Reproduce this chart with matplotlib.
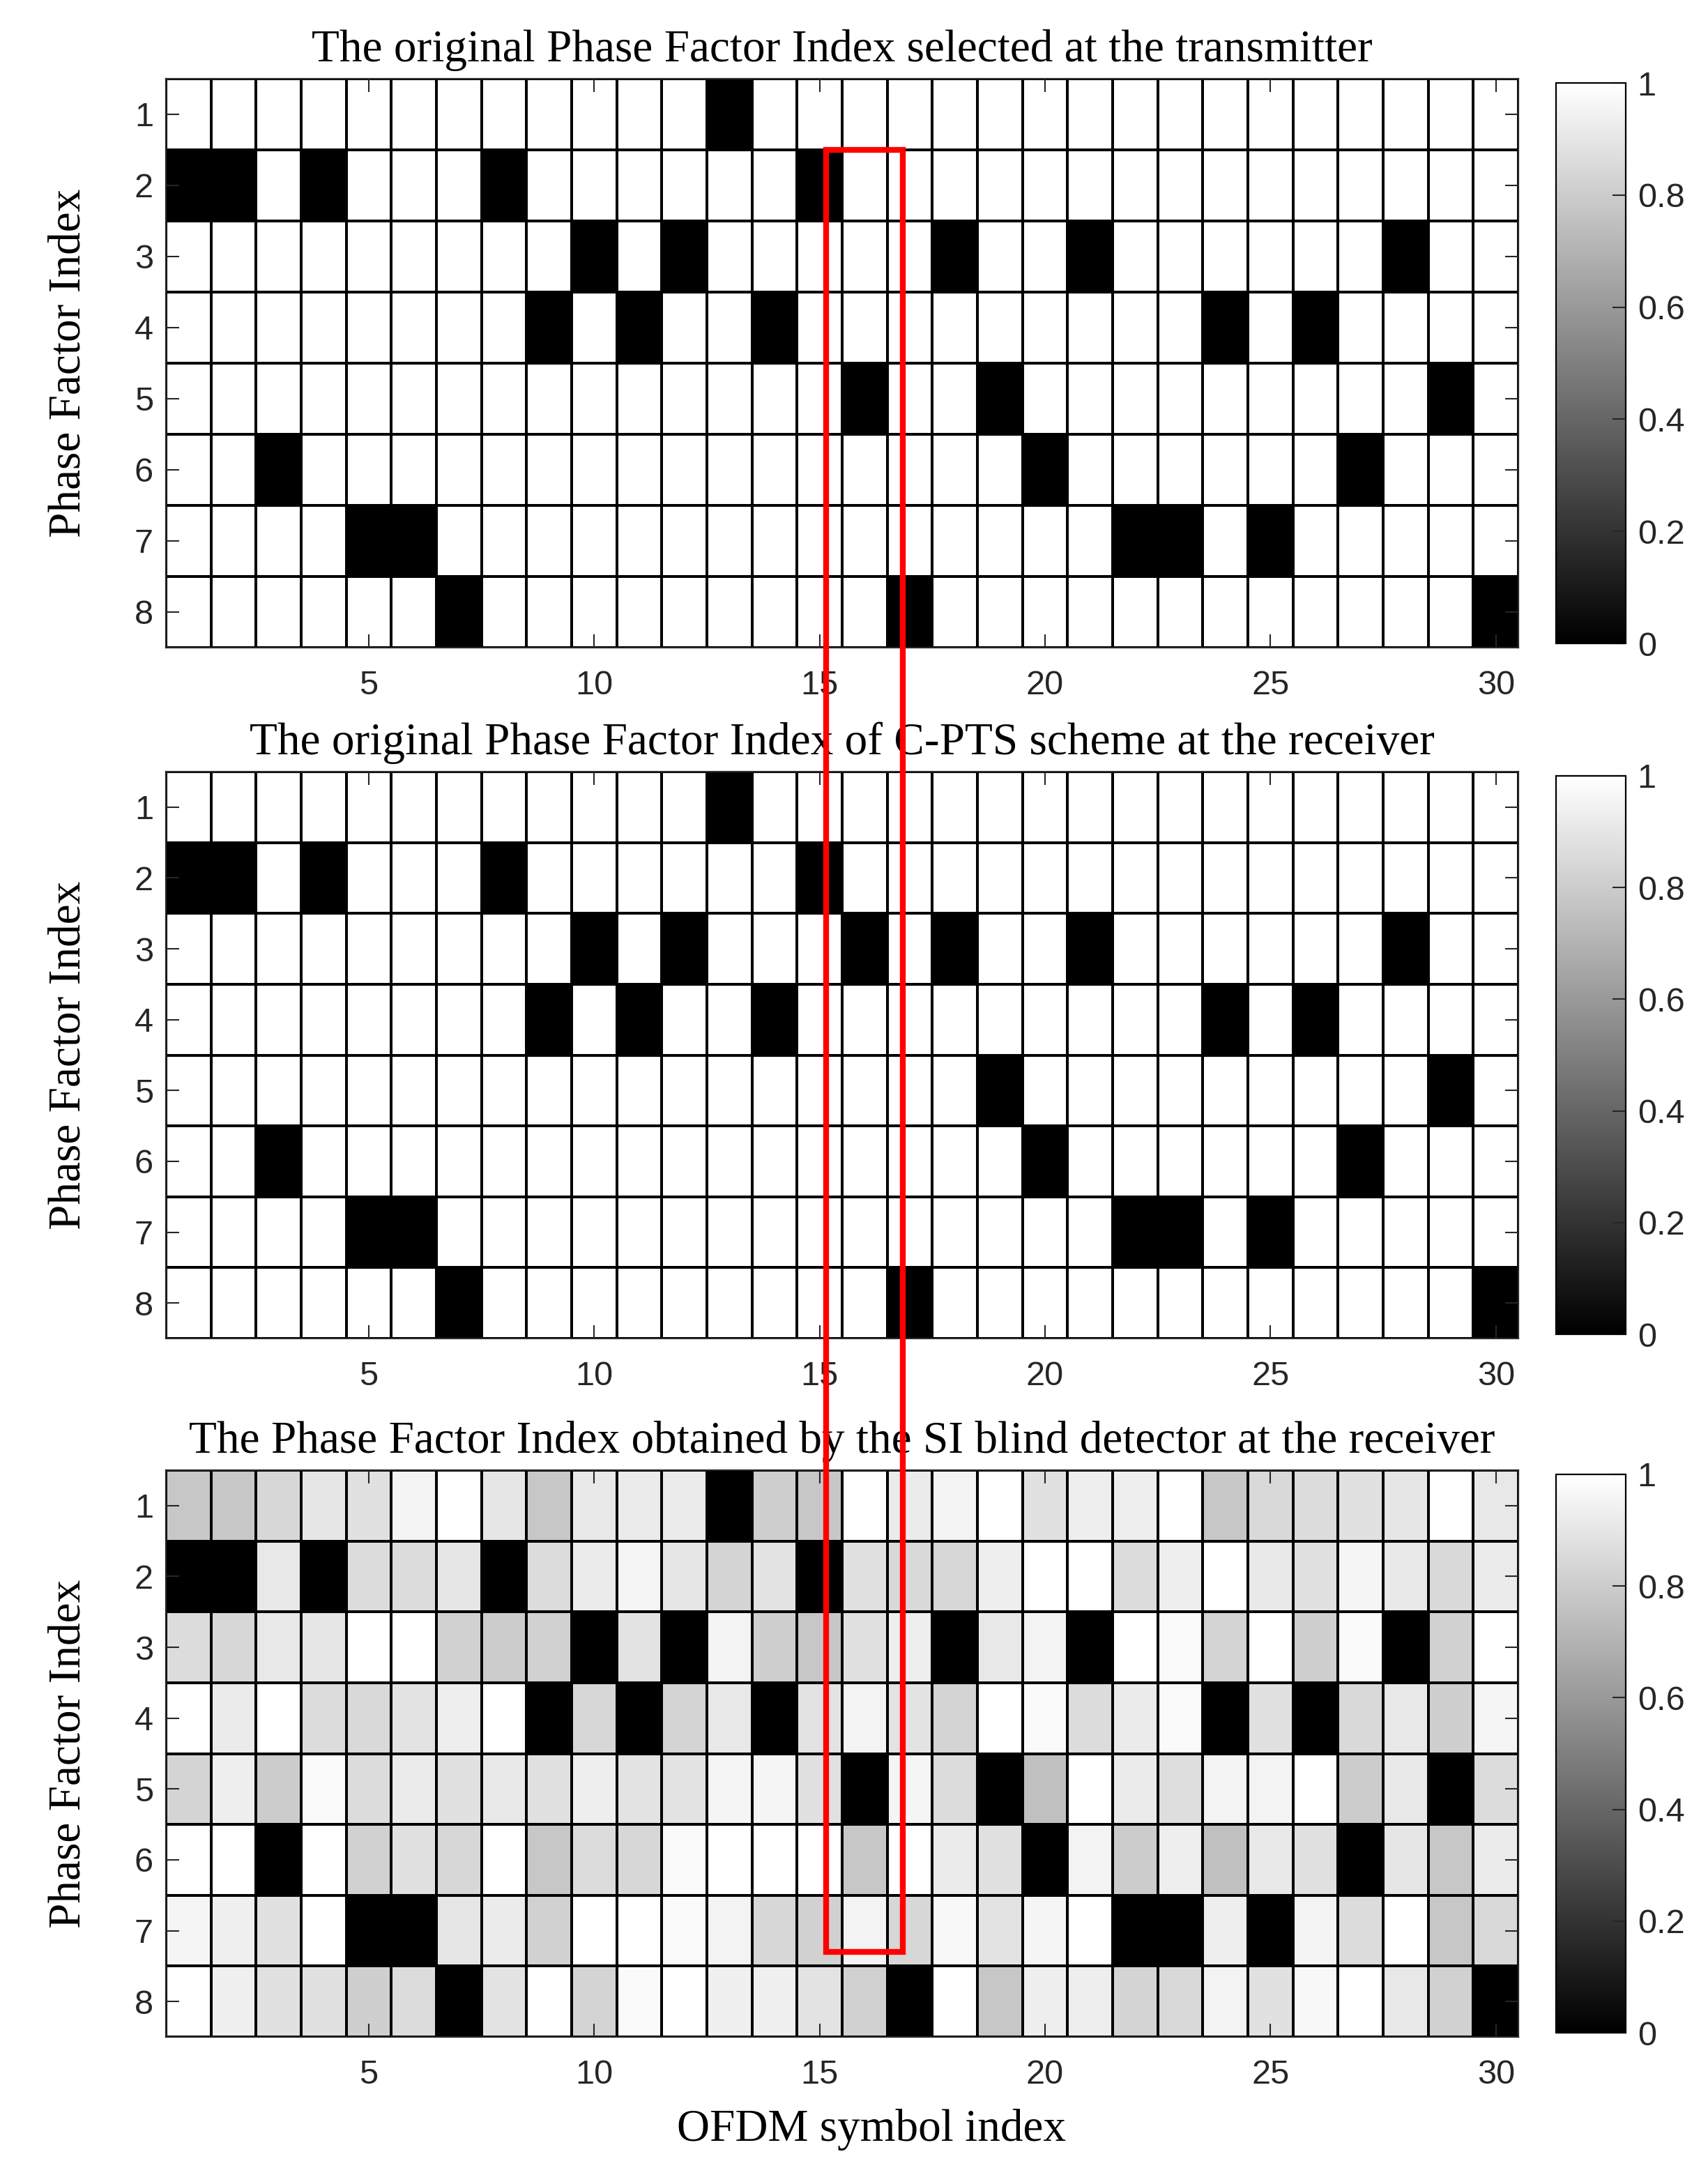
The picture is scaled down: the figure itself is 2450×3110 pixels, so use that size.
import numpy as np
import matplotlib
matplotlib.use("Agg")
import matplotlib.pyplot as plt
from matplotlib.patches import Rectangle

plt.rcParams["font.family"] = ["Liberation Sans", "DejaVu Sans"]

# phase factor index (row, 1..8) chosen for each OFDM symbol (column, 1..30)
symbols = list(range(1, 31))
phase_rows = list(range(1, 9))
tx_index = [2, 2, 6, 2, 7, 7, 8, 2, 4, 3, 4, 3, 1, 4, 2, 5, 8, 3, 5, 6, 3, 7, 7, 4, 7, 4, 6, 3, 5, 8]
rx_index = [2, 2, 6, 2, 7, 7, 8, 2, 4, 3, 4, 3, 1, 4, 2, 3, 8, 3, 5, 6, 3, 7, 7, 4, 7, 4, 6, 3, 5, 8]

# normalised metric from the SI blind detector, one list per phase factor index
si_row1 = [0.78, 0.78, 0.84, 0.90, 0.88, 0.95, 1.00, 0.90, 0.78, 0.91, 0.92, 0.92, 0.00, 0.81, 0.78,
           1.00, 0.92, 0.95, 1.00, 0.88, 0.93, 0.93, 1.00, 0.78, 0.85, 0.86, 0.88, 0.90, 1.00, 0.91]
si_row2 = [0.00, 0.00, 0.91, 0.00, 0.86, 0.86, 0.90, 0.00, 0.86, 0.92, 0.96, 0.90, 0.83, 0.89, 0.00,
           0.88, 0.85, 0.84, 0.93, 1.00, 1.00, 0.86, 0.93, 1.00, 0.91, 0.88, 0.96, 0.91, 0.85, 0.92]
si_row3 = [0.86, 0.84, 0.91, 0.90, 1.00, 1.00, 0.82, 0.80, 0.82, 0.00, 0.89, 0.00, 0.95, 0.81, 0.78,
           0.88, 0.93, 0.00, 0.91, 0.95, 0.00, 1.00, 0.98, 0.83, 1.00, 0.81, 0.98, 0.00, 0.82, 1.00]
si_row4 = [1.00, 0.92, 1.00, 0.86, 0.85, 0.89, 0.93, 1.00, 0.00, 0.84, 0.00, 0.83, 0.91, 0.00, 0.89,
           0.95, 0.89, 0.83, 1.00, 0.98, 0.86, 0.92, 0.98, 0.00, 0.88, 0.00, 0.85, 0.91, 0.81, 0.96]
si_row5 = [0.83, 0.93, 0.80, 0.98, 0.86, 0.92, 0.88, 0.91, 0.88, 0.93, 0.89, 0.89, 0.96, 0.96, 0.88,
           0.00, 0.96, 0.86, 0.00, 0.75, 1.00, 0.92, 0.87, 0.95, 0.95, 1.00, 0.80, 0.91, 0.00, 0.86]
si_row6 = [1.00, 1.00, 0.00, 1.00, 0.82, 0.88, 0.84, 1.00, 0.78, 0.86, 0.84, 0.98, 1.00, 1.00, 1.00,
           0.78, 1.00, 0.92, 0.88, 0.00, 0.95, 0.80, 0.93, 0.75, 0.91, 0.88, 0.00, 0.90, 0.78, 0.92]
si_row7 = [0.96, 0.94, 0.88, 1.00, 0.00, 0.00, 0.90, 0.92, 0.82, 1.00, 1.00, 0.98, 0.95, 0.84, 0.82,
           0.95, 0.84, 0.97, 0.89, 0.96, 1.00, 0.00, 0.00, 0.93, 0.00, 0.95, 0.86, 1.00, 0.78, 0.85]
si_row8 = [1.00, 0.94, 0.88, 0.88, 0.81, 0.86, 0.00, 0.89, 1.00, 0.83, 0.98, 1.00, 0.94, 0.94, 0.89,
           0.82, 0.00, 1.00, 0.78, 0.93, 0.93, 0.83, 0.85, 0.95, 0.88, 0.97, 1.00, 0.91, 0.82, 0.00]

titles = ["The original Phase Factor Index selected at the transmitter",
          "The original Phase Factor Index of C-PTS scheme at the receiver",
          "The Phase Factor Index obtained by the SI blind detector at the receiver"]

# highlighted symbol (red box)
box_x = (15.15, 16.85)
box_top_row = 1.5
box_bottom_row = 7.3


def one_hot(index):
    m = np.ones((len(phase_rows), len(symbols)))
    for col, row in enumerate(index):
        m[row - 1, col] = 0.0
    return m


mats = [one_hot(tx_index), one_hot(rx_index),
        np.array([si_row1, si_row2, si_row3, si_row4, si_row5, si_row6, si_row7, si_row8])]

serif = ["Liberation Serif", "DejaVu Serif"]
fig = plt.figure(figsize=(24.5, 31.1), dpi=100)

W, H = 2450.0, 3110.0
ax_left, ax_right = 238, 2178
cb_left, cb_right = 2232, 2332
tops = [113, 1107, 2109]
bottoms = [929, 1920, 2922]

xe = np.arange(0.5, len(symbols) + 1, 1.0)
ye = np.arange(0.5, len(phase_rows) + 1, 1.0)

axes = []
for i in range(3):
    ax = fig.add_axes([ax_left / W, 1 - bottoms[i] / H, (ax_right - ax_left) / W, (bottoms[i] - tops[i]) / H])
    mesh = ax.pcolormesh(xe, ye, mats[i], cmap="gray", vmin=0, vmax=1, edgecolors="k", linewidth=1.6)
    ax.set_xlim(0.5, 30.5)
    ax.set_ylim(8.5, 0.5)
    ax.set_xticks([5, 10, 15, 20, 25, 30])
    ax.set_yticks(phase_rows)
    ax.tick_params(direction="in", top=True, right=True, length=14, width=1.5,
                   labelsize=35, colors="#262626")
    ax.tick_params(axis="x", pad=23)
    ax.tick_params(axis="y", pad=13)
    for s in ax.spines.values():
        s.set_linewidth(1.6)
        s.set_color("#262626")
    ax.set_title(titles[i], family=serif, fontsize=47, pad=18)
    ax.set_ylabel("Phase Factor Index", family=serif, fontsize=47, labelpad=46)
    cax = fig.add_axes([cb_left / W, 1 - (bottoms[i] - 6) / H, (cb_right - cb_left) / W,
                        (bottoms[i] - tops[i] - 12) / H])
    cb = fig.colorbar(mesh, cax=cax, ticks=[0, 0.2, 0.4, 0.6, 0.8, 1])
    cb.ax.set_yticklabels(["0", "0.2", "0.4", "0.6", "0.8", "1"])
    cb.ax.tick_params(direction="in", length=14, width=1.5, labelsize=35, pad=12, colors="#262626")
    cb.outline.set_linewidth(1.6)
    axes.append(ax)

axes[2].set_xlabel("OFDM symbol index", family=serif, fontsize=47)
axes[2].xaxis.set_label_coords(0.5215, -0.127)

# red box spanning the three panels
to_fig = fig.transFigure.inverted()
x0, y0 = to_fig.transform(axes[0].transData.transform((box_x[0], box_top_row)))
x1, y1 = to_fig.transform(axes[2].transData.transform((box_x[1], box_bottom_row)))
fig.patches.append(Rectangle((x0, y1), x1 - x0, y0 - y1, transform=fig.transFigure,
                             fill=False, edgecolor="#ff0000", linewidth=6, zorder=10))

fig.savefig("out.png", dpi=100)
